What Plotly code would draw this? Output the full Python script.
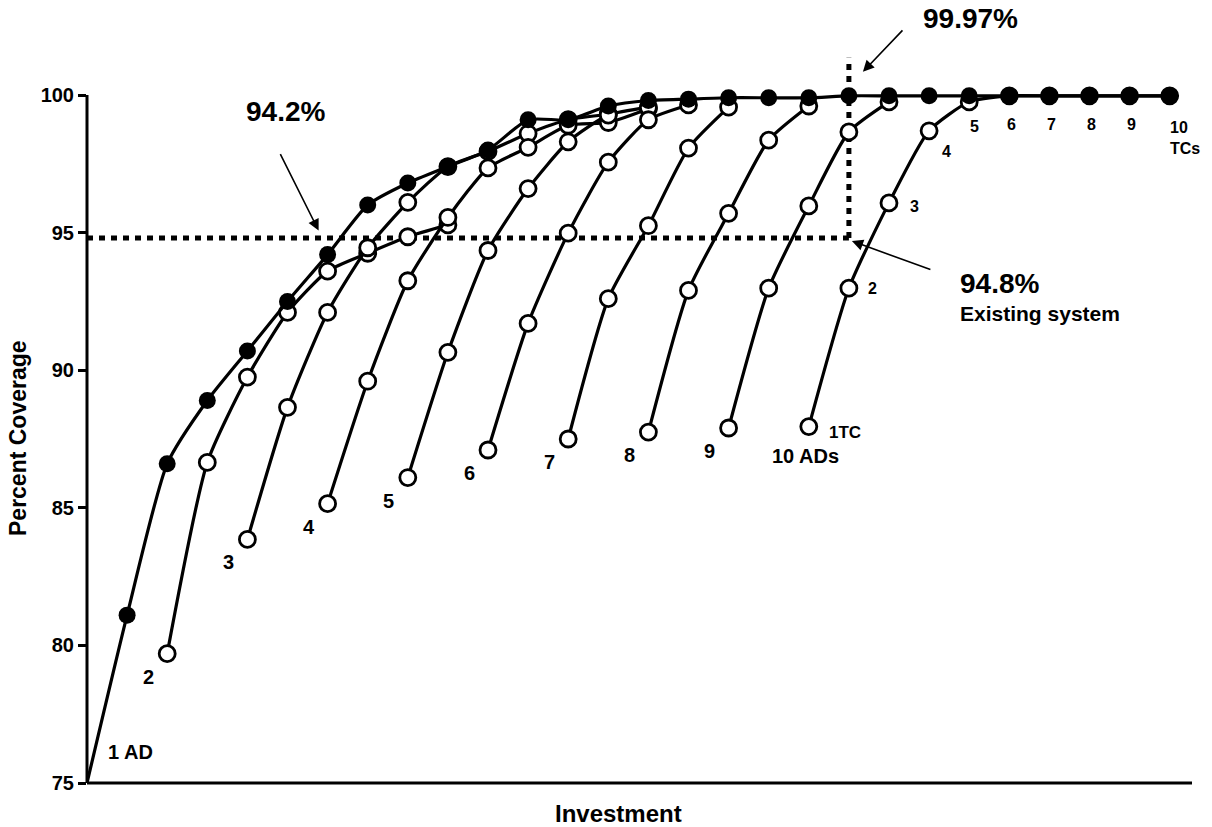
import plotly.graph_objects as go

# ---------------------------------------------------------------------------
# Data
# ---------------------------------------------------------------------------
# Best attainable coverage (%) at each investment step (step 0 = origin of the 1-AD curve)
path_steps = list(range(28))
path_coverage = [75.0, 81.1, 86.6, 88.9, 90.7, 92.5, 94.2, 96.0, 96.8, 97.4, 98.0,
                 99.1, 99.1, 99.6, 99.8, 99.85, 99.9, 99.9, 99.9, 99.97,
                 99.97, 99.97, 99.97, 99.97, 99.97, 99.97, 99.97, 99.97]

# Coverage (%) for a fixed number of ADs as TCs are added one by one
ad_counts = [2, 3, 4, 5, 6, 7, 8, 9, 10]
ad_first_step = [2, 4, 6, 8, 10, 12, 14, 16, 18]
cov_2_ad = [79.7, 86.65, 89.75, 92.1, 93.6, 94.25, 94.85, 95.28]
cov_3_ad = [83.85, 88.65, 92.1, 94.45, 96.1, 97.4, 97.95, 98.6, 99.1, 99.3]
cov_4_ad = [85.15, 89.6, 93.25, 95.55, 97.35, 98.1, 98.9, 99.0, 99.5]
cov_5_ad = [86.1, 90.65, 94.35, 96.6, 98.3, 99.27, 99.55]
cov_6_ad = [87.1, 91.7, 94.98, 97.56, 99.1, 99.64]
cov_7_ad = [87.5, 92.6, 95.25, 98.07, 99.56]
cov_8_ad = [87.75, 92.9, 95.7, 98.36, 99.6]
cov_9_ad = [87.9, 92.98, 95.97, 98.66, 99.75]
cov_10_ad = [87.95, 92.98, 96.08, 98.7, 99.75, 99.97, 99.97, 99.97, 99.97, 99.97]
ad_curves = [cov_2_ad, cov_3_ad, cov_4_ad, cov_5_ad, cov_6_ad,
             cov_7_ad, cov_8_ad, cov_9_ad, cov_10_ad]

tc_counts = list(range(1, 11))           # TCs added along the 10-AD curve

existing_coverage = 94.8                 # existing system
existing_step = 19                       # investment of the existing system
optimum_same_cost = 99.97                # best coverage for the same investment
optimum_same_coverage = 94.2             # coverage reached at lower investment
optimum_same_coverage_step = 6

y_ticks = [75, 80, 85, 90, 95, 100]

# ---------------------------------------------------------------------------
# Layout geometry
# ---------------------------------------------------------------------------
W, H = 1212, 827
M_L, M_R, M_T, M_B = 87, 12, 10, 44
PLOT_W = W - M_L - M_R
PLOT_H = H - M_T - M_B
PX_PER_STEP = 40.1
PX_PER_PCT = 27.52
X_MAX = PLOT_W / PX_PER_STEP
Y_MIN = 75
Y_MAX = Y_MIN + PLOT_H / PX_PER_PCT


def paper_x(px):
    return (px - M_L) / PLOT_W


def paper_y(py):
    return (H - M_B - py) / PLOT_H


FONT = "Liberation Sans, Arial, Helvetica, sans-serif"
BLACK = "#000000"
LINE_W = 3.2

fig = go.Figure()

# fixed-AD curves (hollow markers)
for n, start, vals in zip(ad_counts, ad_first_step, ad_curves):
    fig.add_trace(go.Scatter(
        x=list(range(start, start + len(vals))),
        y=vals,
        mode="lines+markers",
        name=f"{n} ADs",
        line=dict(color=BLACK, width=LINE_W, shape="spline", smoothing=0.6),
        marker=dict(symbol="circle", size=16, color="white", opacity=1,
                    line=dict(color=BLACK, width=2.8)),
        showlegend=False,
        hoverinfo="x+y",
    ))

# optimal path (filled markers), no marker at the origin
fig.add_trace(go.Scatter(
    x=path_steps,
    y=path_coverage,
    mode="lines+markers",
    name="1 AD / optimum",
    line=dict(color=BLACK, width=LINE_W, shape="spline", smoothing=0.6),
    marker=dict(symbol="circle", color=BLACK, opacity=1,
                size=[0] + [17] * (len(path_steps) - 1),
                line=dict(color=BLACK, width=0)),
    showlegend=False,
    hoverinfo="x+y",
))

# dotted reference lines for the existing system
dot = dict(color=BLACK, width=5, dash="6px,6px")
fig.add_shape(type="line", xref="x", yref="y", x0=0, x1=existing_step,
              y0=existing_coverage, y1=existing_coverage, line=dot, layer="below")
fig.add_shape(type="line", xref="x", yref="y", x0=existing_step, x1=existing_step,
              y0=existing_coverage, y1=101.35, line=dot, layer="below")

# axis lines
fig.add_shape(type="line", xref="paper", yref="paper",
              x0=0, x1=0, y0=0, y1=(100 - Y_MIN) / (Y_MAX - Y_MIN),
              line=dict(color=BLACK, width=3))
fig.add_shape(type="line", xref="paper", yref="paper",
              x0=0, x1=paper_x(1192), y0=0, y1=0,
              line=dict(color=BLACK, width=3))

annotations = []


def text(px, py, s, size, xanchor="center", yanchor="middle", **kw):
    annotations.append(dict(
        xref="paper", yref="paper", x=paper_x(px), y=paper_y(py),
        text=s, showarrow=False, xanchor=xanchor, yanchor=yanchor,
        font=dict(family=FONT, size=size, color=BLACK, weight="bold"), **kw))


def point_label(x, y, s, size, dx, dy):
    annotations.append(dict(
        xref="x", yref="y", x=x, y=y, text=s, showarrow=False,
        xshift=dx, yshift=dy, xanchor="center", yanchor="middle",
        font=dict(family=FONT, size=size, color=BLACK, weight="bold")))


def arrow(x, y, dx, dy, ax, ay):
    annotations.append(dict(
        xref="x", yref="y", x=x, y=y, xshift=dx, yshift=dy, text="",
        showarrow=True, axref="pixel", ayref="pixel", ax=ax, ay=ay,
        arrowhead=2, arrowsize=1.4, arrowwidth=1.6, arrowcolor=BLACK,
        standoff=0, startstandoff=0))


# curve labels
point_label(path_steps[0], path_coverage[0], "1 AD", 20, 43, 31)
for n, start, vals in zip(ad_counts[:-1], ad_first_step[:-1], ad_curves[:-1]):
    point_label(start, vals[0], str(n), 20, -19, -23)
point_label(ad_first_step[-1], cov_10_ad[0], "10 ADs", 20, -3, -29)

# TC labels along the 10-AD curve
tc_offsets = {1: (36, -6), 2: (24, 0), 3: (25, -4), 4: (17, -21), 5: (5, -25)}
for tc, val in zip(tc_counts, cov_10_ad):
    step = ad_first_step[-1] + tc - 1
    if tc == 1:
        point_label(step, val, "1TC", 17, *tc_offsets[tc])
    elif tc in tc_offsets:
        point_label(step, val, str(tc), 16, *tc_offsets[tc])
    elif tc < 10:
        point_label(step, val, str(tc), 16, 2, -29)
    else:
        annotations.append(dict(
            xref="x", yref="y", x=step, y=val, text="10<br>TCs", showarrow=False,
            xshift=-2, yshift=-42, xanchor="left", yanchor="middle", align="left",
            font=dict(family=FONT, size=16, color=BLACK, weight="bold")))

# headline values
text(285, 112, f"{optimum_same_coverage}%", 28)
text(970, 18, f"{optimum_same_cost}%", 28)
text(958, 284, f"{existing_coverage}%", 28, xanchor="left")
text(958, 313, "Existing system", 21, xanchor="left")

arrow(optimum_same_coverage_step, optimum_same_coverage, -9, 24, -39, -78)
arrow(existing_step, optimum_same_cost, 14, 24, 41, -43)
arrow(existing_step, existing_coverage, 3, -3, 80, 29)

# axis titles
text(618, 813, "Investment", 24)
text(18, 438, "Percent Coverage", 23, textangle=-90)

fig.update_layout(
    width=W, height=H,
    margin=dict(l=M_L, r=M_R, t=M_T, b=M_B, pad=0),
    paper_bgcolor="white", plot_bgcolor="white",
    showlegend=False,
    annotations=annotations,
    xaxis=dict(range=[0, X_MAX], showgrid=False, zeroline=False, showline=False,
               showticklabels=False, ticks=""),
    yaxis=dict(range=[Y_MIN, Y_MAX], showgrid=False, zeroline=False, showline=False,
               tickmode="array", tickvals=y_ticks, ticks="outside", ticklen=8,
               tickwidth=2.5, tickcolor=BLACK,
               tickfont=dict(family=FONT, size=20, color=BLACK, weight="bold")),
)

fig.write_html("out.html")
